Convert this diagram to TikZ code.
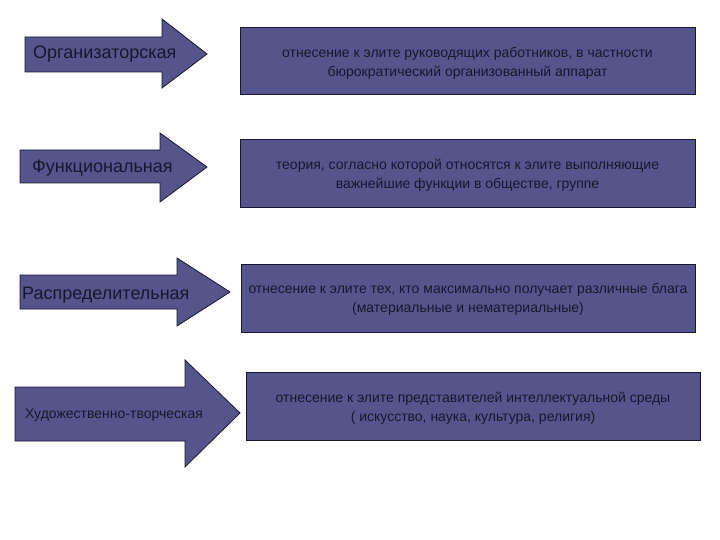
\documentclass[tikz,border=0pt]{standalone}
\usepackage{fontspec}
\setmainfont{Liberation Sans}
\usetikzlibrary{positioning}

\definecolor{slate}{RGB}{86,85,139}
\definecolor{ink}{RGB}{22,22,48}

\begin{document}
\begin{tikzpicture}[x=1pt, y=-1pt,% pixel grid, y going down
 arrowshape/.style = {draw=ink, fill=slate, line width=0.8pt},
  tagtext/.style = {text=ink, anchor=west, inner sep=0pt,
                    font=\fontsize{18}{20}\selectfont},
  boxtext/.style = {draw=ink, fill=slate, line width=0.8pt,
                    text=ink, align=center, inner sep=0pt,
                    font=\fontsize{14}{19}\selectfont}
                    ]
    \useasboundingbox (0,0) rectangle (720,540);

    % arrows on the left
    \draw[arrowshape] (25,37) -- (162,37) -- (162,19) -- (207,54)
        -- (162,88) -- (162,72) -- (25,72) -- cycle;
    \node[tagtext] (org) at (33,54) {Организаторская};

    \draw[arrowshape] (20,150) -- (160,150) -- (160,133) -- (207,167)
        -- (160,202) -- (160,183) -- (20,183) -- cycle;
    \node[tagtext] (fun) at (32,168) {Функциональная};

    \draw[arrowshape] (20,275) -- (177,275) -- (177,258) -- (230,292)
        -- (177,326) -- (177,309) -- (20,309) -- cycle;
    \node[tagtext] (rasp) at (22,295) {Распределительная};

    \draw[arrowshape] (15,387) -- (185,387) -- (185,360) -- (240,413)
        -- (185,467) -- (185,441) -- (15,441) -- cycle;
    \node[tagtext, font=\fontsize{14}{16}\selectfont] (hud) at (25,415)
        {Художественно-творческая};

    % boxes on the right
    \draw[boxtext] (240,27) rectangle (695,94);
    \node[boxtext, draw=none, fill=none] (d1) at (467.5,63)
        {отнесение к элите руководящих работников, в частности\\
         бюрократический организованный аппарат};

    \draw[boxtext] (240,139) rectangle (695,207);
    \node[boxtext, draw=none, fill=none] (d2) at (467.5,175)
        {теория, согласно которой относятся к элите выполняющие\\
         важнейшие функции в обществе, группе};

    \draw[boxtext] (241,264) rectangle (695,332);
    \node[boxtext, draw=none, fill=none] (d3) at (468,299)
        {отнесение к элите тех, кто максимально получает различные блага\\
         (материальные и нематериальные)};

    \draw[boxtext] (246,372) rectangle (700,440);
    \node[boxtext, draw=none, fill=none] (d4) at (473,408)
        {отнесение к элите представителей интеллектуальной среды\\
         ( искусство, наука, культура, религия)};
\end{tikzpicture}
\end{document}
